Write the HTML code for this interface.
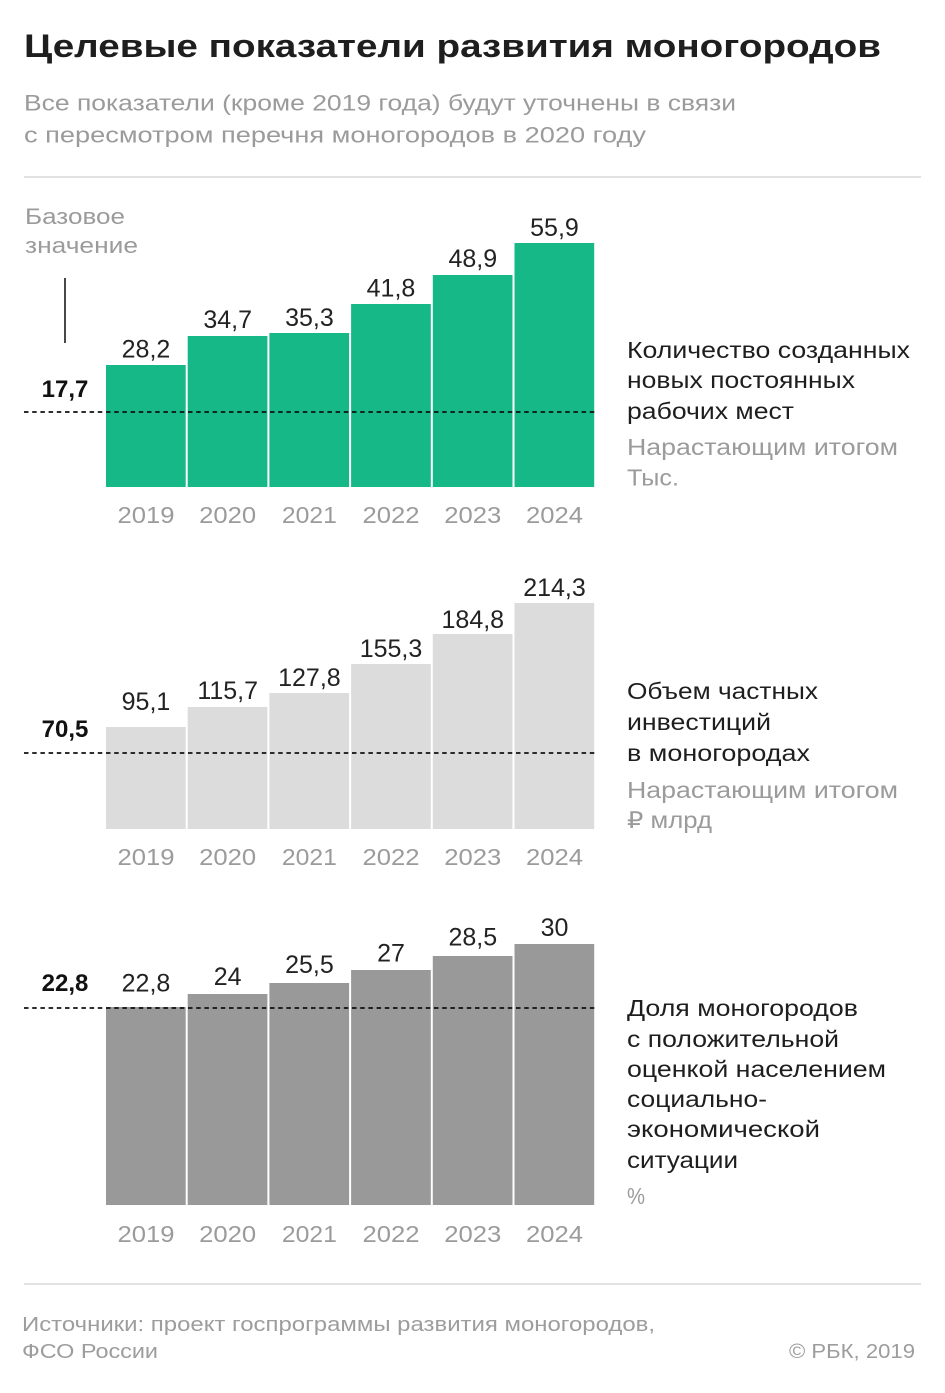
<!DOCTYPE html>
<html>
<head>
<meta charset="utf-8">
<style>
  html,body{margin:0;padding:0;background:#fff;}
  svg{display:block;}
  text{font-family:"Liberation Sans","Noto Sans CJK SC",sans-serif;}
</style>
</head>
<body>
<svg width="945" height="1393" viewBox="0 0 945 1393" xmlns="http://www.w3.org/2000/svg">
  <rect width="945" height="1393" fill="#fff"/>

  <!-- Title -->
  <text x="24" y="57" font-size="32" font-weight="bold" fill="#1e1e1e" textLength="857" lengthAdjust="spacingAndGlyphs">Целевые показатели развития моногородов</text>
  <text x="24" y="110.5" font-size="22" fill="#9b9b9b" textLength="712" lengthAdjust="spacingAndGlyphs">Все показатели (кроме 2019 года) будут уточнены в связи</text>
  <text x="24" y="142.5" font-size="22" fill="#9b9b9b" textLength="622" lengthAdjust="spacingAndGlyphs">с пересмотром перечня моногородов в 2020 году</text>

  <line x1="24" y1="177" x2="921" y2="177" stroke="#e2e2e2" stroke-width="2"/>

  <!-- Base label -->
  <text x="25" y="224" font-size="22" fill="#9b9b9b" textLength="100" lengthAdjust="spacingAndGlyphs">Базовое</text>
  <text x="25" y="253" font-size="22" fill="#9b9b9b" textLength="113" lengthAdjust="spacingAndGlyphs">значение</text>
  <line x1="65" y1="278" x2="65" y2="343" stroke="#1a1a1a" stroke-width="1.6"/>

  <!-- Chart 1 -->
  <g fill="#15b886">
    <rect x="106" y="365" width="79.7" height="122"/>
    <rect x="187.7" y="336" width="79.7" height="151"/>
    <rect x="269.4" y="333" width="79.7" height="154"/>
    <rect x="351.1" y="304" width="79.7" height="183"/>
    <rect x="432.8" y="275" width="79.7" height="212"/>
    <rect x="514.5" y="243" width="79.7" height="244"/>
  </g>
  <line x1="24" y1="412" x2="595" y2="412" stroke="#111" stroke-width="1.7" stroke-dasharray="4.5 3.7"/>
  <text x="65" y="397" font-size="24" font-weight="bold" fill="#111" text-anchor="middle">17,7</text>
  <g font-size="25" fill="#222" text-anchor="middle">
    <text x="146" y="357.5">28,2</text>
    <text x="227.7" y="328">34,7</text>
    <text x="309.4" y="326">35,3</text>
    <text x="391" y="296.5">41,8</text>
    <text x="472.8" y="267">48,9</text>
    <text x="554.5" y="236">55,9</text>
  </g>
  <g font-size="23" fill="#9b9b9b" text-anchor="middle">
    <text x="146" y="523" textLength="57" lengthAdjust="spacingAndGlyphs">2019</text>
    <text x="227.7" y="523" textLength="57" lengthAdjust="spacingAndGlyphs">2020</text>
    <text x="309.4" y="523" textLength="55" lengthAdjust="spacingAndGlyphs">2021</text>
    <text x="391" y="523" textLength="57" lengthAdjust="spacingAndGlyphs">2022</text>
    <text x="472.8" y="523" textLength="57" lengthAdjust="spacingAndGlyphs">2023</text>
    <text x="554.5" y="523" textLength="57" lengthAdjust="spacingAndGlyphs">2024</text>
  </g>
  <g font-size="23">
    <text x="627" y="358" fill="#1e1e1e" textLength="283" lengthAdjust="spacingAndGlyphs">Количество созданных</text>
    <text x="627" y="388" fill="#1e1e1e" textLength="228" lengthAdjust="spacingAndGlyphs">новых постоянных</text>
    <text x="627" y="419" fill="#1e1e1e" textLength="167" lengthAdjust="spacingAndGlyphs">рабочих мест</text>
    <text x="627" y="455" fill="#9b9b9b" textLength="271" lengthAdjust="spacingAndGlyphs">Нарастающим итогом</text>
    <text x="627" y="485.5" fill="#9b9b9b" textLength="52" lengthAdjust="spacingAndGlyphs">Тыс.</text>
  </g>

  <!-- Chart 2 -->
  <g fill="#dcdcdc">
    <rect x="106" y="727" width="79.7" height="102"/>
    <rect x="187.7" y="707" width="79.7" height="122"/>
    <rect x="269.4" y="693" width="79.7" height="136"/>
    <rect x="351.1" y="664" width="79.7" height="165"/>
    <rect x="432.8" y="634" width="79.7" height="195"/>
    <rect x="514.5" y="603" width="79.7" height="226"/>
  </g>
  <line x1="24" y1="753" x2="595" y2="753" stroke="#111" stroke-width="1.7" stroke-dasharray="4.5 3.7"/>
  <text x="65" y="737" font-size="24" font-weight="bold" fill="#111" text-anchor="middle">70,5</text>
  <g font-size="25" fill="#222" text-anchor="middle">
    <text x="146" y="710">95,1</text>
    <text x="227.7" y="699">115,7</text>
    <text x="309.4" y="686">127,8</text>
    <text x="391" y="657">155,3</text>
    <text x="472.8" y="628">184,8</text>
    <text x="554.5" y="596">214,3</text>
  </g>
  <g font-size="23" fill="#9b9b9b" text-anchor="middle">
    <text x="146" y="865" textLength="57" lengthAdjust="spacingAndGlyphs">2019</text>
    <text x="227.7" y="865" textLength="57" lengthAdjust="spacingAndGlyphs">2020</text>
    <text x="309.4" y="865" textLength="55" lengthAdjust="spacingAndGlyphs">2021</text>
    <text x="391" y="865" textLength="57" lengthAdjust="spacingAndGlyphs">2022</text>
    <text x="472.8" y="865" textLength="57" lengthAdjust="spacingAndGlyphs">2023</text>
    <text x="554.5" y="865" textLength="57" lengthAdjust="spacingAndGlyphs">2024</text>
  </g>
  <g font-size="23">
    <text x="627" y="699" fill="#1e1e1e" textLength="191" lengthAdjust="spacingAndGlyphs">Объем частных</text>
    <text x="627" y="730" fill="#1e1e1e" textLength="144" lengthAdjust="spacingAndGlyphs">инвестиций</text>
    <text x="627" y="761" fill="#1e1e1e" textLength="183" lengthAdjust="spacingAndGlyphs">в моногородах</text>
    <text x="627" y="798" fill="#9b9b9b" textLength="271" lengthAdjust="spacingAndGlyphs">Нарастающим итогом</text>
    <text x="627" y="828" fill="#9b9b9b" textLength="85" lengthAdjust="spacingAndGlyphs">₽ млрд</text>
  </g>

  <!-- Chart 3 -->
  <g fill="#999999">
    <rect x="106" y="1007" width="79.7" height="198"/>
    <rect x="187.7" y="994" width="79.7" height="211"/>
    <rect x="269.4" y="983" width="79.7" height="222"/>
    <rect x="351.1" y="970" width="79.7" height="235"/>
    <rect x="432.8" y="956" width="79.7" height="249"/>
    <rect x="514.5" y="944" width="79.7" height="261"/>
  </g>
  <line x1="24" y1="1008" x2="595" y2="1008" stroke="#111" stroke-width="1.7" stroke-dasharray="4.5 3.7"/>
  <text x="65" y="991" font-size="24" font-weight="bold" fill="#111" text-anchor="middle">22,8</text>
  <g font-size="25" fill="#222" text-anchor="middle">
    <text x="146" y="991.5">22,8</text>
    <text x="227.7" y="985">24</text>
    <text x="309.4" y="973">25,5</text>
    <text x="391" y="961.5">27</text>
    <text x="472.8" y="945.5">28,5</text>
    <text x="554.5" y="936">30</text>
  </g>
  <g font-size="23" fill="#9b9b9b" text-anchor="middle">
    <text x="146" y="1242" textLength="57" lengthAdjust="spacingAndGlyphs">2019</text>
    <text x="227.7" y="1242" textLength="57" lengthAdjust="spacingAndGlyphs">2020</text>
    <text x="309.4" y="1242" textLength="55" lengthAdjust="spacingAndGlyphs">2021</text>
    <text x="391" y="1242" textLength="57" lengthAdjust="spacingAndGlyphs">2022</text>
    <text x="472.8" y="1242" textLength="57" lengthAdjust="spacingAndGlyphs">2023</text>
    <text x="554.5" y="1242" textLength="57" lengthAdjust="spacingAndGlyphs">2024</text>
  </g>
  <g font-size="23" fill="#1e1e1e">
    <text x="627" y="1016" textLength="231" lengthAdjust="spacingAndGlyphs">Доля моногородов</text>
    <text x="627" y="1047" textLength="212" lengthAdjust="spacingAndGlyphs">с положительной</text>
    <text x="627" y="1077" textLength="259" lengthAdjust="spacingAndGlyphs">оценкой населением</text>
    <text x="627" y="1107" textLength="140" lengthAdjust="spacingAndGlyphs">социально-</text>
    <text x="627" y="1137" textLength="193" lengthAdjust="spacingAndGlyphs">экономической</text>
    <text x="627" y="1168" textLength="111" lengthAdjust="spacingAndGlyphs">ситуации</text>
    <text x="627" y="1204" fill="#9b9b9b" textLength="18" lengthAdjust="spacingAndGlyphs">%</text>
  </g>

  <!-- Footer -->
  <line x1="24" y1="1284" x2="921" y2="1284" stroke="#e2e2e2" stroke-width="2"/>
  <g font-size="20" fill="#9d9d9d">
    <text x="22" y="1331" textLength="633" lengthAdjust="spacingAndGlyphs">Источники: проект госпрограммы развития моногородов,</text>
    <text x="22" y="1358" textLength="136" lengthAdjust="spacingAndGlyphs">ФСО России</text>
    <text x="915" y="1358" text-anchor="end" textLength="126" lengthAdjust="spacingAndGlyphs">© РБК, 2019</text>
  </g>
</svg>
</body>
</html>
